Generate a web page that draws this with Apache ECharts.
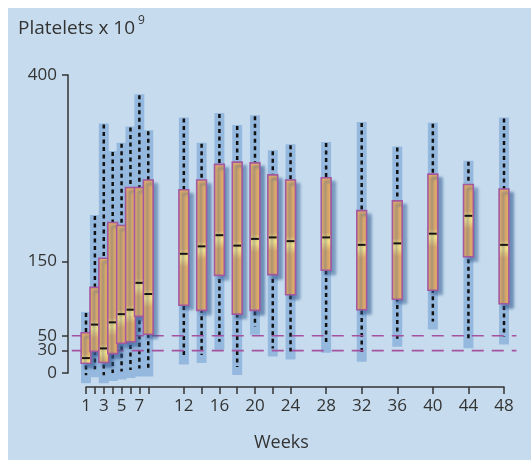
<!DOCTYPE html>
<html>
<head>
<meta charset="utf-8">
<script src="https://cdn.jsdelivr.net/npm/echarts@6/dist/echarts.min.js"></script>
<style>
html,body{margin:0;padding:0;background:#fff;}
#chart{width:531px;height:460px;}
</style>
</head>
<body>
<div id="chart"></div>
<script>
// ---- Data ----
const weeks       = [1, 2, 3, 4, 5, 6, 7, 8, 12, 14, 16, 18, 20, 22, 24, 28, 32, 36, 40, 44, 48];
const whiskerLow  = [-3, 5, -3, 0, 2, 4, 6, 6, 22, 24, 42, 8, 62, 33, 29, 38, 26, 46, 69, 44, 49];
const q1          = [13, 29, 14, 26, 40, 42, 76, 52, 91, 84, 131, 79, 84, 132, 105, 138, 85, 99, 111, 156, 93];
const median      = [20, 65, 33, 68, 79, 85, 121, 106, 160, 170, 185, 171, 180, 182, 177, 182, 172, 174, 187, 211, 172];
const q3          = [54, 115, 154, 202, 198, 249, 249, 259, 246, 259, 280, 283, 282, 266, 259, 262, 218, 231, 267, 253, 247];
const whiskerHigh = [82, 212, 335, 298, 309, 331, 374, 326, 343, 309, 349, 333, 346, 299, 307, 310, 337, 304, 336, 285, 343];
const refLevels   = [50, 30];
const yTicks      = [0, 30, 50, 150, 400];
const xTicks      = [1, 2, 3, 4, 5, 6, 7, 8, 12, 14, 16, 18, 20, 22, 24, 28, 32, 36, 40, 44, 48];
const xLabels     = [1, 3, 5, 7, 12, 16, 20, 24, 28, 32, 36, 40, 44, 48];
const refSpan     = [-0.6, 49.4];

const whiskerData = weeks.map((w, i) => [w, whiskerLow[i], whiskerHigh[i]]);
const boxData = weeks.map((w, i) => [w, q1[i], median[i], q3[i]]);
const refData = refLevels.map(v => [v]);

const chart = echarts.init(document.getElementById('chart'), null, {renderer: 'canvas'});
const FONT = '"Open Sans", "Noto Sans", sans-serif';
const AX = '#333333';

function renderWhisker(params, api) {
  const x = api.coord([api.value(0), 0])[0];
  const yLow = api.coord([0, api.value(1)])[1];
  const yHigh = api.coord([0, api.value(2)])[1];
  const w = api.size([1, 0])[0] * 1.12;
  return {
    type: 'group',
    children: [
      {type: 'rect', shape: {x: x - w / 2, y: yHigh, width: w, height: yLow - yHigh + 8},
       style: {fill: '#95b8de'}},
      {type: 'line', shape: {x1: x, y1: yHigh + 1, x2: x, y2: yLow},
       style: {stroke: '#111111', lineWidth: 2.5, lineDash: [4, 3.5]}}
    ]
  };
}

function renderRef(params, api) {
  const y = api.coord([0, api.value(0)])[1];
  const x1 = api.coord([refSpan[0], 0])[0];
  const x2 = api.coord([refSpan[1], 0])[0];
  return {type: 'line', shape: {x1: x1, y1: y, x2: x2, y2: y},
          style: {stroke: '#a4519f', lineWidth: 1.6, lineDash: [12, 8]}};
}

function renderBox(params, api) {
  const x = api.coord([api.value(0), 0])[0];
  const y1 = api.coord([0, api.value(1)])[1];
  const ym = api.coord([0, api.value(2)])[1];
  const y3 = api.coord([0, api.value(3)])[1];
  const w = api.size([1, 0])[0] * 1.1;
  const h = y1 - y3;
  const clamp = v => Math.max(0, Math.min(1, v));
  const f = (ym - y3) / h;
  const base = '#deab69';
  const grad = new echarts.graphic.LinearGradient(0, 0, 0, 1, [
    {offset: 0, color: base},
    {offset: clamp(f - 5 / h), color: base},
    {offset: clamp(f), color: '#efd37c'},
    {offset: clamp(f + 4 / h), color: '#f5e38a'},
    {offset: clamp(f + 13 / h), color: base},
    {offset: 1, color: base}
  ]);
  return {
    type: 'group',
    children: [
      {type: 'rect', shape: {x: x - w / 2, y: y3, width: w, height: h},
       style: {fill: grad, stroke: '#a3589f', lineWidth: 1.6,
               shadowColor: 'rgba(50,90,145,0.6)', shadowBlur: 3, shadowOffsetX: 4, shadowOffsetY: 4}},
      {type: 'line', shape: {x1: x - w / 2 + 1, y1: ym, x2: x + w / 2 - 1, y2: ym},
       style: {stroke: '#151515', lineWidth: 2}}
    ]
  };
}

const option = {
  backgroundColor: '#ffffff',
  animation: false,
  graphic: [
    {type: 'rect', left: 8, top: 8, z: -10, shape: {width: 523, height: 452},
     style: {fill: '#c6dcee'}, silent: true},
    {type: 'text', left: 18, top: 19, z: 10,
     style: {text: 'Platelets x 10', font: '19px ' + FONT, fill: '#333'}},
    {type: 'text', left: 138, top: 15, z: 10,
     style: {text: '9', font: '12px ' + FONT, fill: '#333'}},
    {type: 'text', left: 254, top: 434, z: 10,
     style: {text: 'Weeks', font: '18px ' + FONT, fill: '#333'}}
  ],
  grid: {left: 86, right: 27, top: 75, bottom: 87, containLabel: false, outerBoundsMode: 'none'},
  xAxis: {
    type: 'value', min: 1, max: 48, offset: 14,
    splitLine: {show: false},
    axisLine: {show: true, onZero: false, lineStyle: {color: AX, width: 1.5}},
    axisTick: {show: true, inside: false, length: 7, lineStyle: {color: AX, width: 1.5}, customValues: xTicks},
    axisLabel: {show: true, margin: 11, fontSize: 17, fontFamily: FONT, color: '#333', customValues: xLabels}
  },
  yAxis: {
    type: 'value', min: 0, max: 400, offset: 18,
    splitLine: {show: false},
    axisLine: {show: true, onZero: false, lineStyle: {color: AX, width: 1.5}},
    axisTick: {show: true, inside: false, length: 6, lineStyle: {color: AX, width: 1.5}, customValues: yTicks},
    axisLabel: {show: true, margin: 11, fontSize: 17, fontFamily: FONT, color: '#333', customValues: yTicks}
  },
  series: [
    {type: 'custom', name: 'whiskers', data: whiskerData, renderItem: renderWhisker, z: 2, clip: false,
     encode: {x: 0, y: [1, 2]}},
    {type: 'custom', name: 'ref', data: refData, renderItem: renderRef, z: 3, clip: false,
     encode: {y: 0}},
    {type: 'custom', name: 'boxes', data: boxData, renderItem: renderBox, z: 4, clip: false,
     encode: {x: 0, y: [1, 2, 3]}}
  ]
};
chart.setOption(option);
</script>
</body>
</html>
